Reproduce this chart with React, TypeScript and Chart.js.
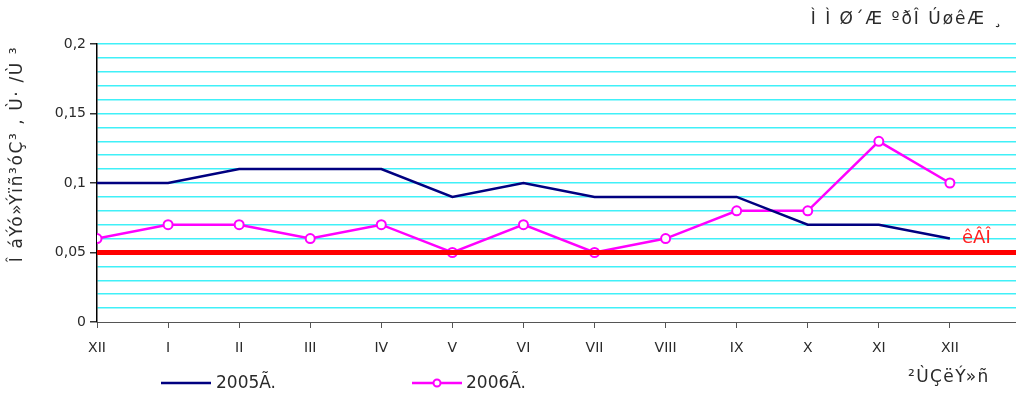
import React, { useEffect, useRef } from "react";
import { Chart, registerables } from "chart.js";

Chart.register(...registerables);

const months = ["XII", "I", "II", "III", "IV", "V", "VI", "VII", "VIII", "IX", "X", "XI", "XII"];
const values2005 = [0.1, 0.1, 0.11, 0.11, 0.11, 0.09, 0.1, 0.09, 0.09, 0.09, 0.07, 0.07, 0.06];
const values2006 = [0.06, 0.07, 0.07, 0.06, 0.07, 0.05, 0.07, 0.05, 0.06, 0.08, 0.08, 0.13, 0.1];
const limitValue = 0.05;
const seriesNames = ["2005Ã.", "2006Ã."];
const limitLabel = "êÂÎ";
const chartTitle = "Ì Ì Ø´Æ ºðÎ ÚøêÆ ¸";
const yTitle = "Î áÝó»Ýïñ³óÇ³ , Ù· /Ù ³";
const xTitle = "²ÙÇëÝ»ñ";
const yMax = 0.2;
const xMax = 12.93;

const FONT = "'DejaVu Sans', Verdana, sans-serif";
const NAVY = "#000080";
const MAGENTA = "#FF00FF";
const TEXT = "#2a2a2a";

const overlayPlugin = {
  id: "overlay",
  afterDatasetsDraw(chart: any) {
    const { ctx, chartArea, scales } = chart;
    const y = scales.y.getPixelForValue(limitValue);
    ctx.save();
    ctx.strokeStyle = "#FF0000";
    ctx.lineWidth = 5;
    ctx.beginPath();
    ctx.moveTo(chartArea.left, y);
    ctx.lineTo(chartArea.right, y);
    ctx.stroke();
    ctx.fillStyle = "#FF2020";
    ctx.font = `18px ${FONT}`;
    ctx.textAlign = "left";
    ctx.textBaseline = "middle";
    ctx.fillText(limitLabel, 962, y - 14);
    ctx.restore();
  },
  afterDraw(chart: any) {
    const { ctx } = chart;
    ctx.save();
    ctx.fillStyle = TEXT;
    ctx.font = `17px ${FONT}`;
    ctx.textBaseline = "middle";
    ctx.textAlign = "right";
    (ctx as any).letterSpacing = "2px";
    ctx.fillText(chartTitle, 1004, 20);
    ctx.textAlign = "left";
    (ctx as any).letterSpacing = "1.4px";
    ctx.fillText(xTitle, 908, 378);
    ctx.save();
    ctx.translate(18, 154);
    ctx.rotate(-Math.PI / 2);
    ctx.textAlign = "center";
    (ctx as any).letterSpacing = "1.6px";
    ctx.fillText(yTitle, 0, 0);
    ctx.restore();
    (ctx as any).letterSpacing = "0px";
    const ly = 383;
    ctx.lineWidth = 2.5;
    ctx.strokeStyle = NAVY;
    ctx.beginPath();
    ctx.moveTo(161, ly);
    ctx.lineTo(211, ly);
    ctx.stroke();
    ctx.fillStyle = TEXT;
    ctx.textAlign = "left";
    ctx.fillText(seriesNames[0], 216, ly + 1);
    ctx.strokeStyle = MAGENTA;
    ctx.beginPath();
    ctx.moveTo(412, ly);
    ctx.lineTo(462, ly);
    ctx.stroke();
    ctx.fillStyle = "#FFFFFF";
    ctx.lineWidth = 2;
    ctx.beginPath();
    ctx.arc(437, ly, 3.5, 0, Math.PI * 2);
    ctx.fill();
    ctx.stroke();
    ctx.fillStyle = TEXT;
    ctx.fillText(seriesNames[1], 466, ly + 1);
    ctx.restore();
  },
};

export default function App() {
  const ref = useRef<HTMLCanvasElement | null>(null);
  useEffect(() => {
    document.body.style.margin = "0";
    const canvas = ref.current!;
    const chart = new Chart(canvas, {
      type: "line",
      data: {
        datasets: [
          {
            label: seriesNames[0],
            data: values2005.map((v, i) => ({ x: i, y: v })),
            borderColor: NAVY,
            borderWidth: 2.5,
            pointRadius: 0,
            tension: 0,
          },
          {
            label: seriesNames[1],
            data: values2006.map((v, i) => ({ x: i, y: v })),
            borderColor: MAGENTA,
            borderWidth: 2.5,
            pointRadius: 4.5,
            pointBorderWidth: 2,
            pointBackgroundColor: "#FFFFFF",
            pointBorderColor: MAGENTA,
            tension: 0,
          },
        ],
      },
      options: {
        animation: false,
        responsive: false,
        layout: { autoPadding: false, padding: { left: 0, right: 0, top: 44, bottom: 0 } },
        plugins: { legend: { display: false }, tooltip: { enabled: false } },
        scales: {
          x: {
            type: "linear",
            min: 0,
            max: xMax,
            afterBuildTicks(scale: any) {
              scale.ticks = scale.ticks.filter((t: any) => Number.isInteger(t.value));
            },
            afterFit(scale: any) {
              scale.height = 78;
              scale.paddingLeft = 0;
              scale.paddingRight = 0;
            },
            grid: { drawOnChartArea: false, drawTicks: true, tickLength: 6, color: "#555555" },
            border: { color: "#555555", width: 1 },
            ticks: {
              stepSize: 1,
              autoSkip: false,
              maxRotation: 0,
              padding: 12,
              color: TEXT,
              font: { family: FONT, size: 14 },
              callback: (v: any) => months[v] ?? "",
            },
          },
          y: {
            min: 0,
            max: yMax,
            afterFit(scale: any) {
              scale.width = 97;
              scale.paddingTop = 0;
              scale.paddingBottom = 0;
            },
            grid: {
              color: (c: any) => (c.tick && Math.round(c.tick.value * 100) === 0 ? "rgba(0,0,0,0)" : "#40F0F8"),
              lineWidth: 1.5,
              tickLength: 7,
              tickColor: (c: any) =>
                c.tick && Math.round(c.tick.value * 100) % 5 === 0 ? "#333333" : "rgba(0,0,0,0)",
            },
            border: { color: "#000000", width: 1.5 },
            ticks: {
              stepSize: 0.01,
              autoSkip: false,
              padding: 4,
              color: TEXT,
              font: { family: FONT, size: 14 },
              callback: (v: any) => {
                const r = Math.round(v * 100);
                if (r % 5 !== 0) return "";
                return String(r / 100).replace(".", ",");
              },
            },
          },
        },
      },
      plugins: [overlayPlugin],
    });
    return () => chart.destroy();
  }, []);
  return <canvas ref={ref} width={1016} height={400} style={{ display: "block" }} />;
}
